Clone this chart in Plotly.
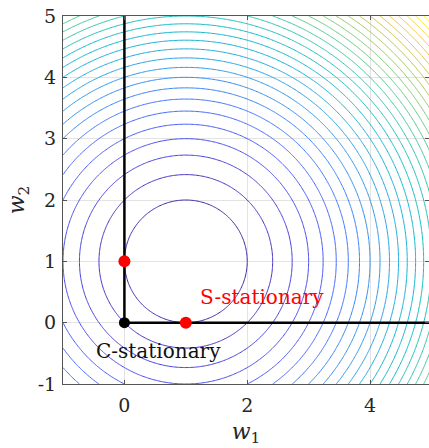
import numpy as np
import plotly.graph_objects as go

# ---- data ----
center = [1.0, 1.0]                 # minimiser of f(w) = ||w - center||^2
grid_w1 = np.linspace(-1, 5, 301)
grid_w2 = np.linspace(-1, 5, 301)
level_start, level_end, level_step = 1, 31, 1
constraint_v_x = [0, 0]             # w1 = 0, w2 >= 0
constraint_v_y = [0, 5]
constraint_h_x = [0, 5]             # w2 = 0, w1 >= 0
constraint_h_y = [0, 0]
s_points_x = [0, 1]
s_points_y = [1, 0]
c_point_x = [0]
c_point_y = [0]
s_label = "S-stationary"
c_label = "C-stationary"
s_label_pos = [1.2, 0.42]
c_label_pos = [-0.5, -0.47]
x_ticks = [0, 2, 4]
x_tick_labels = ["0", "2", "4"]
y_ticks = [-1, 0, 1, 2, 3, 4, 5]
y_tick_labels = ["-1", "0", "1", "2", "3", "4", "5"]

W1, W2 = np.meshgrid(grid_w1, grid_w2)
Z = (W1 - center[0]) ** 2 + (W2 - center[1]) ** 2

parula = [
    [0.00, "rgb(62,38,168)"],
    [0.05, "rgb(68,54,212)"],
    [0.10, "rgb(71,73,237)"],
    [0.15, "rgb(70,93,251)"],
    [0.20, "rgb(59,116,254)"],
    [0.25, "rgb(46,134,248)"],
    [0.30, "rgb(39,150,235)"],
    [0.35, "rgb(31,164,224)"],
    [0.40, "rgb(15,176,215)"],
    [0.45, "rgb(7,184,201)"],
    [0.50, "rgb(26,191,184)"],
    [0.55, "rgb(51,198,161)"],
    [0.60, "rgb(77,201,140)"],
    [0.65, "rgb(110,204,115)"],
    [0.70, "rgb(143,201,94)"],
    [0.75, "rgb(173,196,77)"],
    [0.80, "rgb(204,191,64)"],
    [0.85, "rgb(232,189,56)"],
    [0.90, "rgb(252,196,51)"],
    [0.95, "rgb(247,222,36)"],
    [1.00, "rgb(249,251,21)"],
]

fig = go.Figure()
fig.add_trace(go.Contour(
    x=grid_w1, y=grid_w2, z=Z,
    contours=dict(coloring="lines", start=level_start, end=level_end, size=level_step),
    colorscale=parula, zauto=False, zmin=0, zmax=32,
    line=dict(width=1), showscale=False, hoverinfo="skip",
))
fig.add_trace(go.Scatter(x=constraint_v_x, y=constraint_v_y, mode="lines",
                         line=dict(color="black", width=2.5), showlegend=False))
fig.add_trace(go.Scatter(x=constraint_h_x, y=constraint_h_y, mode="lines",
                         line=dict(color="black", width=2.5), showlegend=False))
fig.add_trace(go.Scatter(x=s_points_x, y=s_points_y, mode="markers",
                         marker=dict(color="red", size=12), showlegend=False))
fig.add_trace(go.Scatter(x=c_point_x, y=c_point_y, mode="markers",
                         marker=dict(color="black", size=11), showlegend=False))

serif = "DejaVu Serif"
fig.add_annotation(x=s_label_pos[0], y=s_label_pos[1], text=s_label, showarrow=False,
                   xanchor="left", yanchor="middle", font=dict(family=serif, size=20, color="red"))
fig.add_annotation(x=c_label_pos[0], y=c_label_pos[1], text=c_label, showarrow=False,
                   xanchor="left", yanchor="middle", font=dict(family=serif, size=20, color="#111111"))

axis_common = dict(showgrid=True, gridcolor="#e3e3e3", gridwidth=1, zeroline=False,
                   showline=True, linecolor="#555555", linewidth=1, mirror="ticks",
                   ticks="inside", ticklen=4, tickcolor="#555555",
                   tickfont=dict(family=serif, size=19, color="#262626"))

fig.update_xaxes(range=[-1, 4.96], tickvals=x_ticks, ticktext=x_tick_labels, ticklabelstandoff=4,
                 title=dict(text="<i>w</i><sub>1</sub>", font=dict(family=serif, size=22, color="#262626"), standoff=8),
                 **axis_common)
fig.update_yaxes(range=[-1, 5], tickvals=y_ticks, ticktext=y_tick_labels, ticklabelstandoff=2,
                 title=dict(text="<i>w</i><sub>2</sub>", font=dict(family=serif, size=22, color="#262626"), standoff=6),
                 **axis_common)

fig.update_layout(width=429, height=448, margin=dict(l=63, r=0, t=16, b=64),
                  font=dict(family=serif),
                  plot_bgcolor="white", paper_bgcolor="white", showlegend=False)

fig.write_html("out.html")
